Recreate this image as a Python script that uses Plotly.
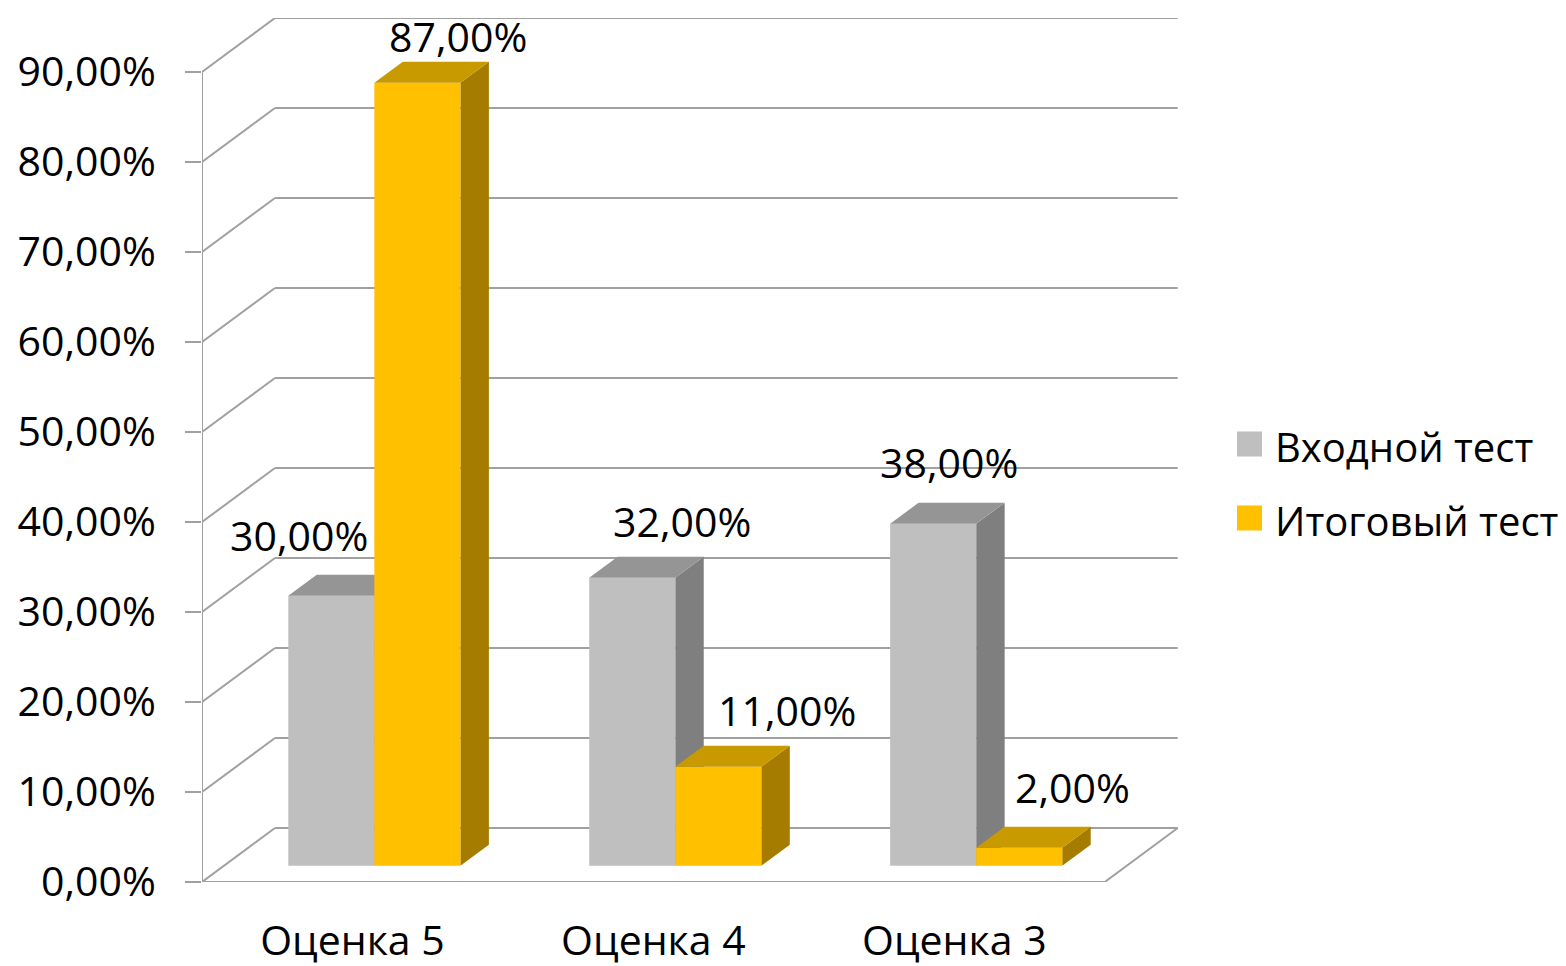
import plotly.graph_objects as go

# ---------------- data ----------------
categories = ["Оценка 5", "Оценка 4", "Оценка 3"]
series_names = ["Входной тест", "Итоговый тест"]
entry_values = [0.30, 0.32, 0.38]
final_values = [0.87, 0.11, 0.02]
y_tick_values = [0.0, 0.1, 0.2, 0.3, 0.4, 0.5, 0.6, 0.7, 0.8, 0.9]

# ---------------- styles / geometry ----------------
FONT = "Open Sans"
FS = 41
LEGEND_FS = 40
GRID = "#A0A0A0"
face_colors = [
    {"front": "#BFBFBF", "top": "#959595", "side": "#7F7F7F"},
    {"front": "#FFC000", "top": "#C99A00", "side": "#A57C00"},
]
# pseudo-3D projection, in axis units
DEPTH_DX = 0.2425          # back wall horizontal offset
DEPTH_DY = 0.06            # back wall vertical offset
BAR_FRONT = 0.30           # fraction of depth where bar front sits
BAR_DEPTH = 0.39           # fraction of depth occupied by a bar
BAR_W = 0.286              # width of one bar
Y_MAX = 0.96
n = len(categories)
X_MAX = n + 0.25
# label offsets in pixels (dx, dy) per series per category
label_shift = [
    [(-32, 61), (50, 57), (16, 62)],
    [(41, 47), (69, 57), (53, 61)],
]

# page body has an 8px margin; figure is sized to fit the window
PAGE_OFF = 8
FIG_W, FIG_H = 1566 - PAGE_OFF, 966 - PAGE_OFF
M_L, M_R, M_T, M_B = 202 - PAGE_OFF, 386, 18 - PAGE_OFF, 84
PLOT_W = FIG_W - M_L - M_R
PLOT_H = FIG_H - M_T - M_B


def paper_x(px):
    return (px - PAGE_OFF - M_L) / PLOT_W


def paper_y(py):
    return (FIG_H - M_B + PAGE_OFF - py) / PLOT_H


fig = go.Figure()

series = [entry_values, final_values]
ddx = BAR_DEPTH * DEPTH_DX
ddy = BAR_DEPTH * DEPTH_DY
base = BAR_FRONT * DEPTH_DY
annotations = []

for s, vals in enumerate(series):
    fx, fy, tx, ty, sx, sy = [], [], [], [], [], []
    for i, v in enumerate(vals):
        center = i + 0.5 + BAR_FRONT * DEPTH_DX
        x0 = center - BAR_W + s * BAR_W
        x1 = x0 + BAR_W
        yb = base
        yt = base + v
        fx += [x0, x1, x1, x0, x0, None]
        fy += [yb, yb, yt, yt, yb, None]
        tx += [x0, x1, x1 + ddx, x0 + ddx, x0, None]
        ty += [yt, yt, yt + ddy, yt + ddy, yt, None]
        sx += [x1, x1 + ddx, x1 + ddx, x1, x1, None]
        sy += [yb, yb + ddy, yt + ddy, yt, yb, None]
        dxp, dyp = label_shift[s][i]
        annotations.append(dict(
            x=(x0 + x1) / 2, y=yt, xref="x", yref="y",
            text=f"{v * 100:.2f}".replace(".", ",") + "%",
            showarrow=False, xanchor="center", yanchor="middle",
            xshift=dxp, yshift=dyp,
            font=dict(family=FONT, size=FS, color="#000000"),
        ))
    c = face_colors[s]
    for xs, ys, col in ((sx, sy, c["side"]), (fx, fy, c["front"]), (tx, ty, c["top"])):
        fig.add_trace(go.Scatter(
            x=xs, y=ys, mode="lines", fill="toself", fillcolor=col,
            line=dict(width=0, color=col), hoverinfo="skip", showlegend=False,
        ))

# walls: gridlines (diagonal + back), floor edges, axis lines and ticks
shapes = []
line = dict(color=GRID, width=2)
for t in y_tick_values:
    shapes.append(dict(type="line", xref="x", yref="y", x0=0, y0=t,
                       x1=DEPTH_DX, y1=t + DEPTH_DY, line=line, layer="below"))
    shapes.append(dict(type="line", xref="x", yref="y", x0=DEPTH_DX, y0=t + DEPTH_DY,
                       x1=n + DEPTH_DX, y1=t + DEPTH_DY, line=line, layer="below"))
shapes.append(dict(type="line", xref="x", yref="y", x0=n, y0=0,
                   x1=n + DEPTH_DX, y1=DEPTH_DY, line=line, layer="below"))
shapes.append(dict(type="line", xref="x", yref="y", x0=0, y0=0, x1=n, y1=0,
                   line=line, layer="below"))
shapes.append(dict(type="line", xref="x", yref="y", x0=0, y0=0, x1=0,
                   y1=y_tick_values[-1], line=line, layer="below"))
for k in range(n + 1):
    shapes.append(dict(type="line", xref="x", yref="y", x0=k, y0=0, x1=k,
                       y1=-15 / 900, line=line, layer="below"))

# legend (drawn manually so the swatches match the reference size)
legend_rows_y = [444, 518]
for s, name in enumerate(series_names):
    cy = legend_rows_y[s]
    shapes.append(dict(type="rect", xref="paper", yref="paper",
                       x0=paper_x(1237), x1=paper_x(1262),
                       y0=paper_y(cy + 12.5), y1=paper_y(cy - 12.5),
                       fillcolor=face_colors[s]["front"], line=dict(width=0)))
    annotations.append(dict(
        x=paper_x(1273), y=paper_y(cy + 2), xref="paper", yref="paper",
        text=name, showarrow=False, xanchor="left", yanchor="middle",
        font=dict(family=FONT, size=LEGEND_FS, color="#000000"),
    ))

fig.update_layout(
    width=FIG_W, height=FIG_H,
    margin=dict(l=M_L, r=M_R, t=M_T, b=M_B, autoexpand=False),
    paper_bgcolor="white", plot_bgcolor="white",
    separators=", ",
    font=dict(family=FONT, size=FS, color="#000000"),
    shapes=shapes,
    annotations=annotations,
    showlegend=False,
    xaxis=dict(
        range=[0, X_MAX], showgrid=False, zeroline=False, showline=False,
        tickvals=[i + 0.5 for i in range(n)], ticktext=categories,
        ticks="", ticklabelstandoff=31, automargin=False, fixedrange=True,
        tickfont=dict(family=FONT, size=FS, color="#000000"),
    ),
    yaxis=dict(
        range=[0, Y_MAX], showgrid=False, zeroline=False, showline=False,
        tickvals=y_tick_values, tickformat=".2%",
        ticks="outside", ticklen=16, tickwidth=2, tickcolor=GRID,
        ticklabelstandoff=21, automargin=False, fixedrange=True,
        tickfont=dict(family=FONT, size=FS, color="#000000"),
    ),
)

fig.write_html("out.html")
